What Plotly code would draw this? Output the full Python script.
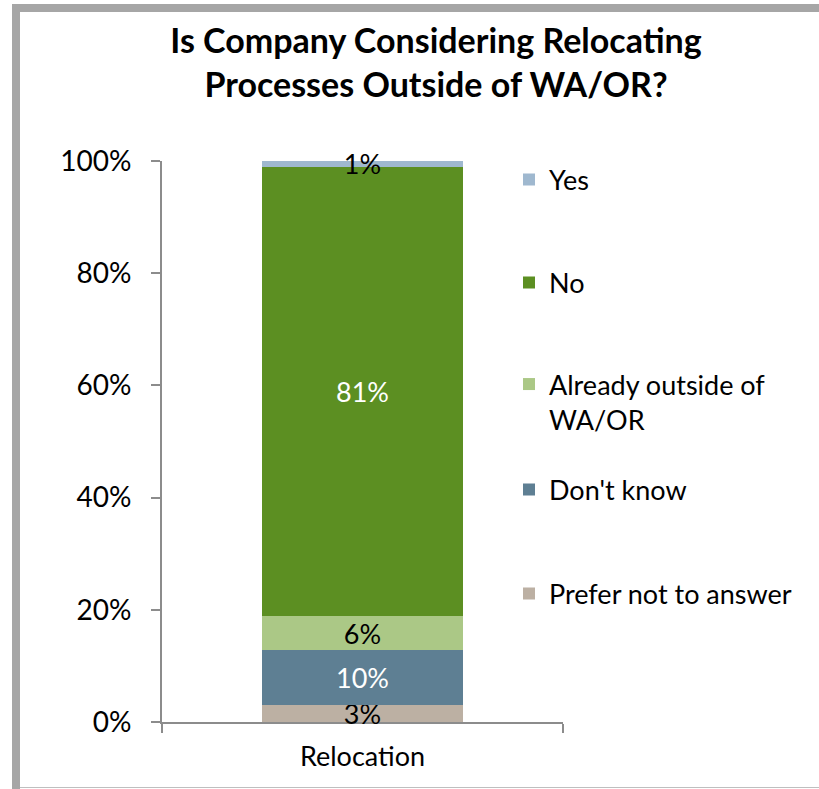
import plotly.graph_objects as go

W, H = 819, 789
# plot area in pixels
L, R, T, B = 162, 563, 161, 722

categories = ["Relocation"]
series = ["Prefer not to answer", "Don't know", "Already outside of<br>WA/OR", "No", "Yes"]
values = [3, 10, 6, 81, 1]
colors = ["#bcb0a3", "#5e7f93", "#abc886", "#5c8f22", "#9fb8cf"]
label_colors = ["black", "white", "black", "white", "black"]
y_ticks = [0, 20, 40, 60, 80, 100]

FONT = "Lato, Carlito, Calibri, sans-serif"


def px_x(px):
    return (px - L) / (R - L)


def px_y(py):
    return (B - py) / (B - T)


fig = go.Figure()

legend_pos = {
    "Yes": 180,
    "No": 283,
    "Already outside of<br>WA/OR": 402,
    "Don't know": 490,
    "Prefer not to answer": 594,
}
legend_names = {}
for i, name in enumerate(["Yes", "No", "Already outside of<br>WA/OR", "Don't know", "Prefer not to answer"]):
    legend_names[name] = "legend" if i == 0 else f"legend{i + 1}"

for name, v, col, lc in zip(series, values, colors, label_colors):
    fig.add_trace(go.Bar(
        x=categories,
        y=[v],
        name=name,
        marker_color=col,
        marker_line_width=0,
        text=[f"{v}%"],
        texttemplate="%{text}",
        textposition="inside",
        insidetextanchor="middle",
        constraintext="none",
        cliponaxis=False,
        textfont=dict(color=lc, size=27, family=FONT),
        legend=legend_names[name],
        hoverinfo="name+text",
    ))

legends = {}
for name, key in legend_names.items():
    multi = "<br>" in name
    legends[key] = dict(
        x=px_x(509),
        xanchor="left",
        y=px_y(legend_pos[name]),
        yanchor="middle",
        font=dict(size=27, family=FONT, color="black"),
        bgcolor="rgba(0,0,0,0)",
        valign="top" if multi else "middle",
        itemwidth=30,
    )

fig.update_layout(
    width=W,
    height=H,
    margin=dict(l=L, r=W - R, t=T, b=H - B, pad=0),
    barmode="stack",
    barnorm="percent",
    bargap=0.5,
    plot_bgcolor="white",
    paper_bgcolor="white",
    font=dict(family=FONT, size=27, color="black"),
    title=dict(
        text="<b>Is Company Considering Relocating<br>Processes Outside of WA/OR?</b>",
        x=px_x(436),
        xref="paper",
        xanchor="center",
        y=1 - 53 / H,
        yref="container",
        yanchor="top",
        font=dict(size=34, family=FONT, color="black"),
    ),
    showlegend=True,
    **legends,
)

fig.update_yaxes(
    range=[0, 100],
    tickvals=y_ticks,
    ticktext=[f"{t}%" for t in y_ticks],
    showgrid=False,
    zeroline=False,
    showline=True,
    linecolor="#8c8c8c",
    linewidth=2,
    ticks="outside",
    ticklen=9,
    tickwidth=2,
    tickcolor="#8c8c8c",
    ticklabelstandoff=14,
    tickfont=dict(size=28, family=FONT, color="black"),
)
fig.update_xaxes(
    showgrid=False,
    showline=True,
    linecolor="#8c8c8c",
    linewidth=2,
    ticks="outside",
    tickson="boundaries",
    ticklen=9,
    tickwidth=2,
    tickcolor="#8c8c8c",
    ticklabelstandoff=10,
    layer="below traces",
    tickfont=dict(size=27, family=FONT, color="black"),
)

# chart frame (grey edges of the original Excel chart area)
frame = "#a6a6a6"
fig.add_shape(type="rect", xref="paper", yref="paper",
              x0=px_x(12), x1=px_x(W + 5), y0=px_y(4), y1=px_y(12),
              fillcolor=frame, line_width=0, layer="above")
fig.add_shape(type="rect", xref="paper", yref="paper",
              x0=px_x(12), x1=px_x(20), y0=px_y(4), y1=px_y(H + 5),
              fillcolor=frame, line_width=0, layer="above")
fig.add_shape(type="line", xref="paper", yref="paper",
              x0=px_x(20), x1=px_x(W + 5), y0=px_y(787.5), y1=px_y(787.5),
              line=dict(color="#bfbfbf", width=1), layer="above")

# the page's default body margin would shift the chart by 8px
fig.write_html(
    "out.html",
    config={"displayModeBar": False},
    post_script="document.body.style.margin='0';",
)
